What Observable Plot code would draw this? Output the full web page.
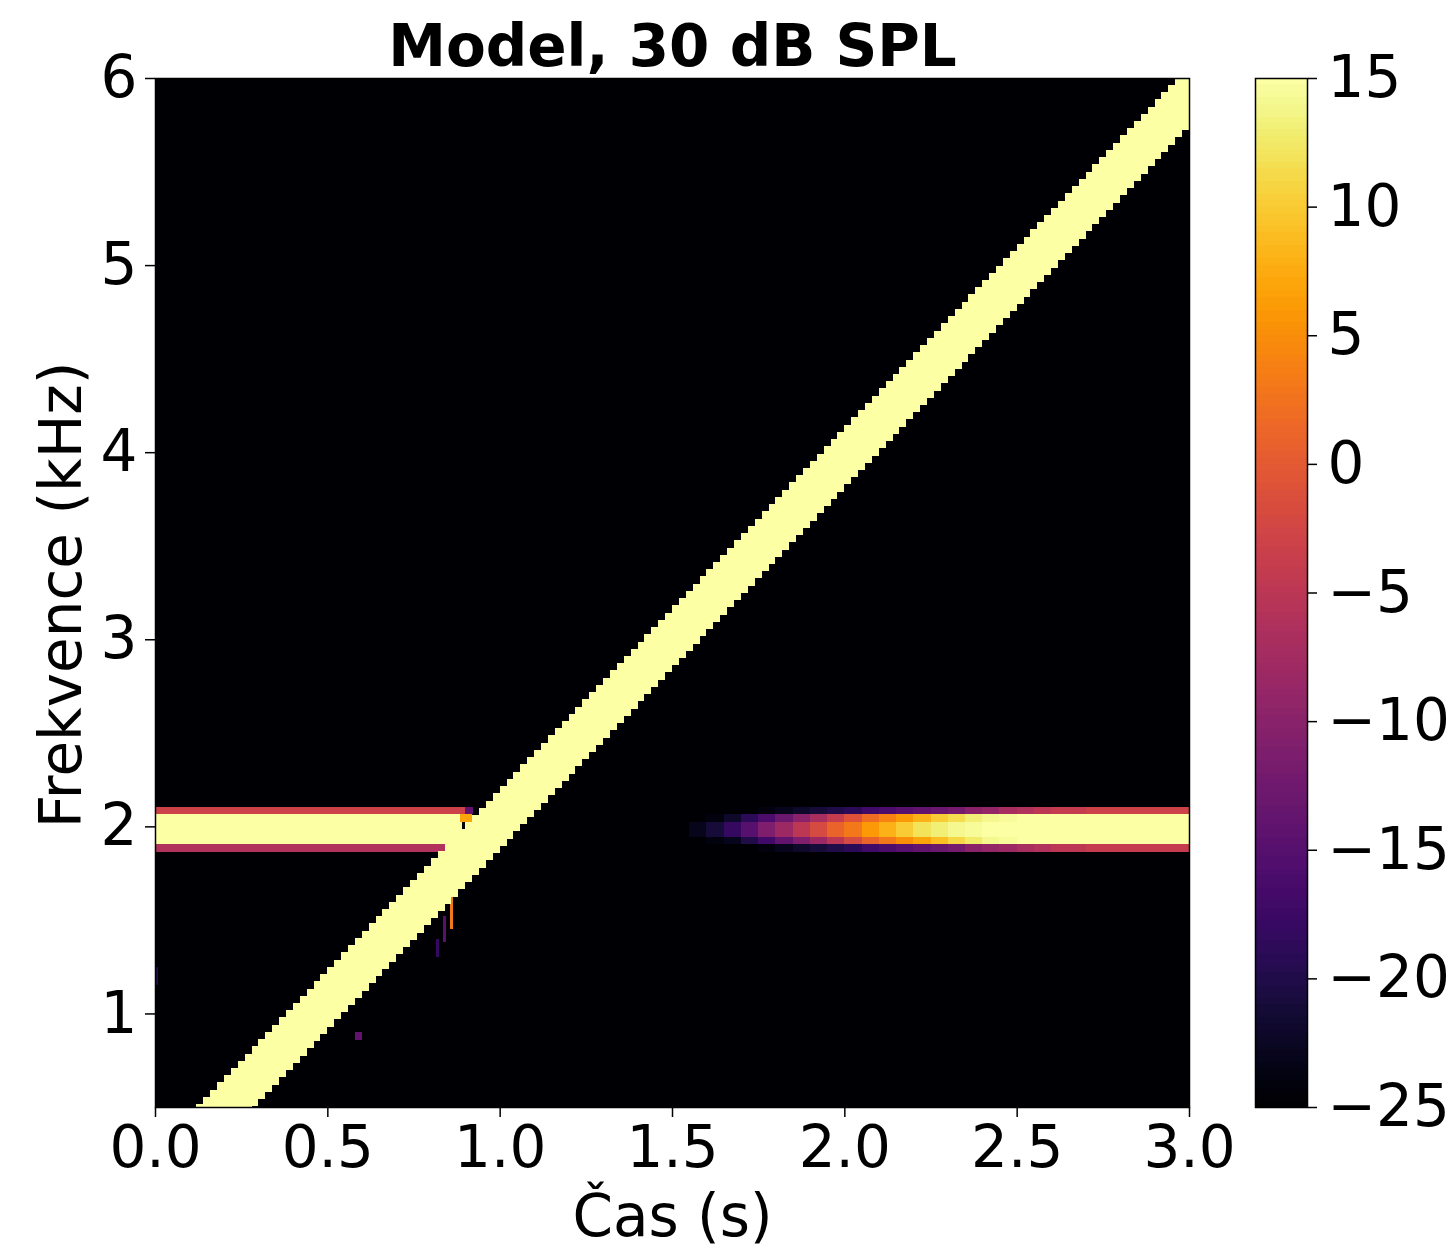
<!DOCTYPE html>
<html><head><meta charset="utf-8">
<script src="https://cdn.jsdelivr.net/npm/d3@7"></script>
<script src="https://cdn.jsdelivr.net/npm/@observablehq/plot@0.6"></script>
<style>
html,body{margin:0;padding:0;background:#fff;}
#wrap{position:relative;width:1456px;height:1250px;font-family:"DejaVu Sans",sans-serif;}
#wrap svg{position:absolute;top:0;overflow:visible;}
</style></head><body><div id="wrap"></div>
<script>
// ---- text & ticks ----
const title = "Model, 30 dB SPL";
const xLabel = "Čas (s)";
const yLabel = "Frekvence (kHz)";
const xTicks = [0, 0.5, 1, 1.5, 2, 2.5, 3];
const yTicks = [1, 2, 3, 4, 5, 6];
const colorTicks = [-25, -20, -15, -10, -5, 0, 5, 10, 15];
const timeRange = [0, 3];
const freqRange = [0.5, 6];
const levelRange = [-25, 15];

// ---- linear chirp sweep (time s, frequency kHz) ----
const sweepTime = [0.205, 3.0];
const sweepFreq = [0.5, 5.9];
const sweepHalfBand = 0.16;
const sweepLevel = 15;
const frameStep = 0.02;

// ---- 2 kHz tone rows (bottom edge, lower inner, centre, upper inner, top edge) ----
const toneRowLow  = [1.864, 1.904, 1.944, 2.024, 2.064];
const toneRowHigh = [1.904, 1.944, 2.024, 2.064, 2.104];
// first part of the tone (from t = 0)
const tone1End   = [0.86, 0.87, 0.89, 0.885, 0.90];
const tone1Level = [-6, 15, 15, 15, -3];
// tails at the end of the first part
const tailStart = [0.885, 0.90];
const tailEnd   = [0.92, 0.922];
const tailRow   = [3, 4];
const tailLevel = [7, -14];

// ---- fade-in part of the tone (column start times, 0.05 s wide) ----
const fadeStart = [1.55, 1.60, 1.65, 1.70, 1.75, 1.80, 1.85, 1.90, 1.95, 2.00,
                   2.05, 2.10, 2.15, 2.20, 2.25, 2.30, 2.35, 2.40, 2.45, 2.50,
                   2.55, 2.60, 2.65, 2.70, 2.75, 2.80, 2.85, 2.90, 2.95];
const fadeWidth = 0.05;
const fadeRowE = [-25,-25,-25,-25,-24,-23,-22,-21,-20,-19,-17,-16,-15,-14,-13,-12,-10,-9,-8,-7,-6,-5,-5,-4,-4,-4,-4,-4,-4];
const fadeRowD = [-25,-24,-23,-20,-17,-14,-11,-8,-5,-2,1,3,5,7,9,11,12.5,14,14.5,15,15,15,15,15,15,15,15,15,15];
const fadeRowC = [-23,-21,-18,-15,-11,-8,-5,-2,1,3,6,8,10,12,13,14,14.5,15,15,15,15,15,15,15,15,15,15,15,15];
const fadeRowB = [-25,-24,-22,-19,-16,-13,-10,-7,-4,-1,2,4,6,8,10,11.5,13,14,14.5,15,15,15,15,15,15,15,15,15,15];
const fadeRowA = [-25,-25,-25,-25,-24,-23,-22,-21,-20,-19,-17,-16,-15,-14,-13,-12,-10,-9,-7,-6,-5,-4,-4,-3,-3,-3,-3,-3,-3];

// ---- small spots near the crossing ----
const spotT0 = [0.855, 0.835, 0.815, 0.58, 0.0];
const spotT1 = [0.865, 0.845, 0.825, 0.60, 0.01];
const spotF0 = [1.45, 1.38, 1.30, 0.86, 1.15];
const spotF1 = [1.62, 1.52, 1.40, 0.90, 1.25];
const spotLevel = [3, -15, -18, -14, -20];

// ---- build the cell table ----
const cells = [];
cells.push({t0: timeRange[0], t1: timeRange[1], f0: freqRange[0], f1: freqRange[1], v: levelRange[0]});
toneRowLow.forEach((lo, i) => cells.push({t0: 0, t1: tone1End[i], f0: lo, f1: toneRowHigh[i], v: tone1Level[i]}));
tailStart.forEach((s, i) => cells.push({t0: s, t1: tailEnd[i], f0: toneRowLow[tailRow[i]], f1: toneRowHigh[tailRow[i]], v: tailLevel[i]}));
[fadeRowE, fadeRowD, fadeRowC, fadeRowB, fadeRowA].forEach((row, r) =>
  row.forEach((v, j) => cells.push({t0: fadeStart[j], t1: fadeStart[j] + fadeWidth, f0: toneRowLow[r], f1: toneRowHigh[r], v})));
spotT0.forEach((t0, i) => cells.push({t0, t1: spotT1[i], f0: spotF0[i], f1: spotF1[i], v: spotLevel[i]}));
const slope = (sweepFreq[1] - sweepFreq[0]) / (sweepTime[1] - sweepTime[0]);
const nFrames = Math.round((timeRange[1] - timeRange[0]) / frameStep);
for (let k = 0; k < nFrames; k++) {
  const t0 = timeRange[0] + k * frameStep, t1 = t0 + frameStep, tc = (t0 + t1) / 2;
  const fc = sweepFreq[0] + slope * (tc - sweepTime[0]);
  if (fc + sweepHalfBand < freqRange[0] || fc - sweepHalfBand > freqRange[1]) continue;
  cells.push({t0, t1, f0: fc - sweepHalfBand, f1: fc + sweepHalfBand, v: sweepLevel});
}

const colorOpts = {type: "linear", scheme: "inferno", domain: levelRange, clamp: true};
const FS = 58;

const main = Plot.plot({
  width: 1456, height: 1250,
  marginLeft: 155, marginRight: 267, marginTop: 78, marginBottom: 143,
  style: {fontFamily: '"DejaVu Sans", sans-serif', background: "transparent", overflow: "visible"},
  x: {domain: timeRange},
  y: {domain: freqRange},
  color: colorOpts,
  marks: [
    Plot.rect(cells, {x1: "t0", x2: "t1", y1: "f0", y2: "f1", fill: "v", clip: true, shapeRendering: "crispEdges"}),
    Plot.frame({stroke: "black", strokeWidth: 1.5}),
    Plot.axisX({ticks: xTicks, tickFormat: d3.format(".1f"), tickSize: 10, tickPadding: 8, fontSize: FS, label: null, strokeWidth: 1.5, color: "black"}),
    Plot.axisY({ticks: yTicks, tickFormat: d3.format("d"), tickSize: 10, tickPadding: 8, fontSize: FS, label: null, strokeWidth: 1.5, color: "black"}),
    Plot.text([title], {text: d => d, frameAnchor: "top", textAnchor: "middle", lineAnchor: "bottom", dy: -13, fontSize: FS, fontWeight: "bold", fill: "black"}),
    Plot.text([xLabel], {text: d => d, frameAnchor: "bottom", textAnchor: "middle", lineAnchor: "bottom", dy: 128, fontSize: FS, fill: "black"}),
    Plot.text([yLabel], {text: d => d, frameAnchor: "left", textAnchor: "middle", lineAnchor: "bottom", rotate: -90, dx: -75, dy: 2, fontSize: FS, fill: "black"})
  ]
});
main.style.left = "0px";

const rampStep = 0.25;
const ramp = d3.range(levelRange[0], levelRange[1], rampStep).map(v => ({a: 0, b: 1, v0: v, v1: v + rampStep, c: v + rampStep / 2}));
const bar = Plot.plot({
  width: 201, height: 1250,
  marginLeft: 0, marginRight: 149, marginTop: 78, marginBottom: 143,
  style: {fontFamily: '"DejaVu Sans", sans-serif', background: "transparent", overflow: "visible"},
  x: {domain: [0, 1], axis: null},
  y: {domain: levelRange},
  color: colorOpts,
  marks: [
    Plot.rect(ramp, {x1: "a", x2: "b", y1: "v0", y2: "v1", fill: "c", shapeRendering: "crispEdges"}),
    Plot.frame({stroke: "black", strokeWidth: 1.5}),
    Plot.axisY({anchor: "right", ticks: colorTicks, tickFormat: d3.format("d"), tickSize: 9, tickPadding: 11, fontSize: FS, label: null, strokeWidth: 1.5, color: "black"})
  ]
});
bar.style.left = "1255px";

const wrap = document.getElementById("wrap");
wrap.appendChild(main);
wrap.appendChild(bar);
</script></body></html>
